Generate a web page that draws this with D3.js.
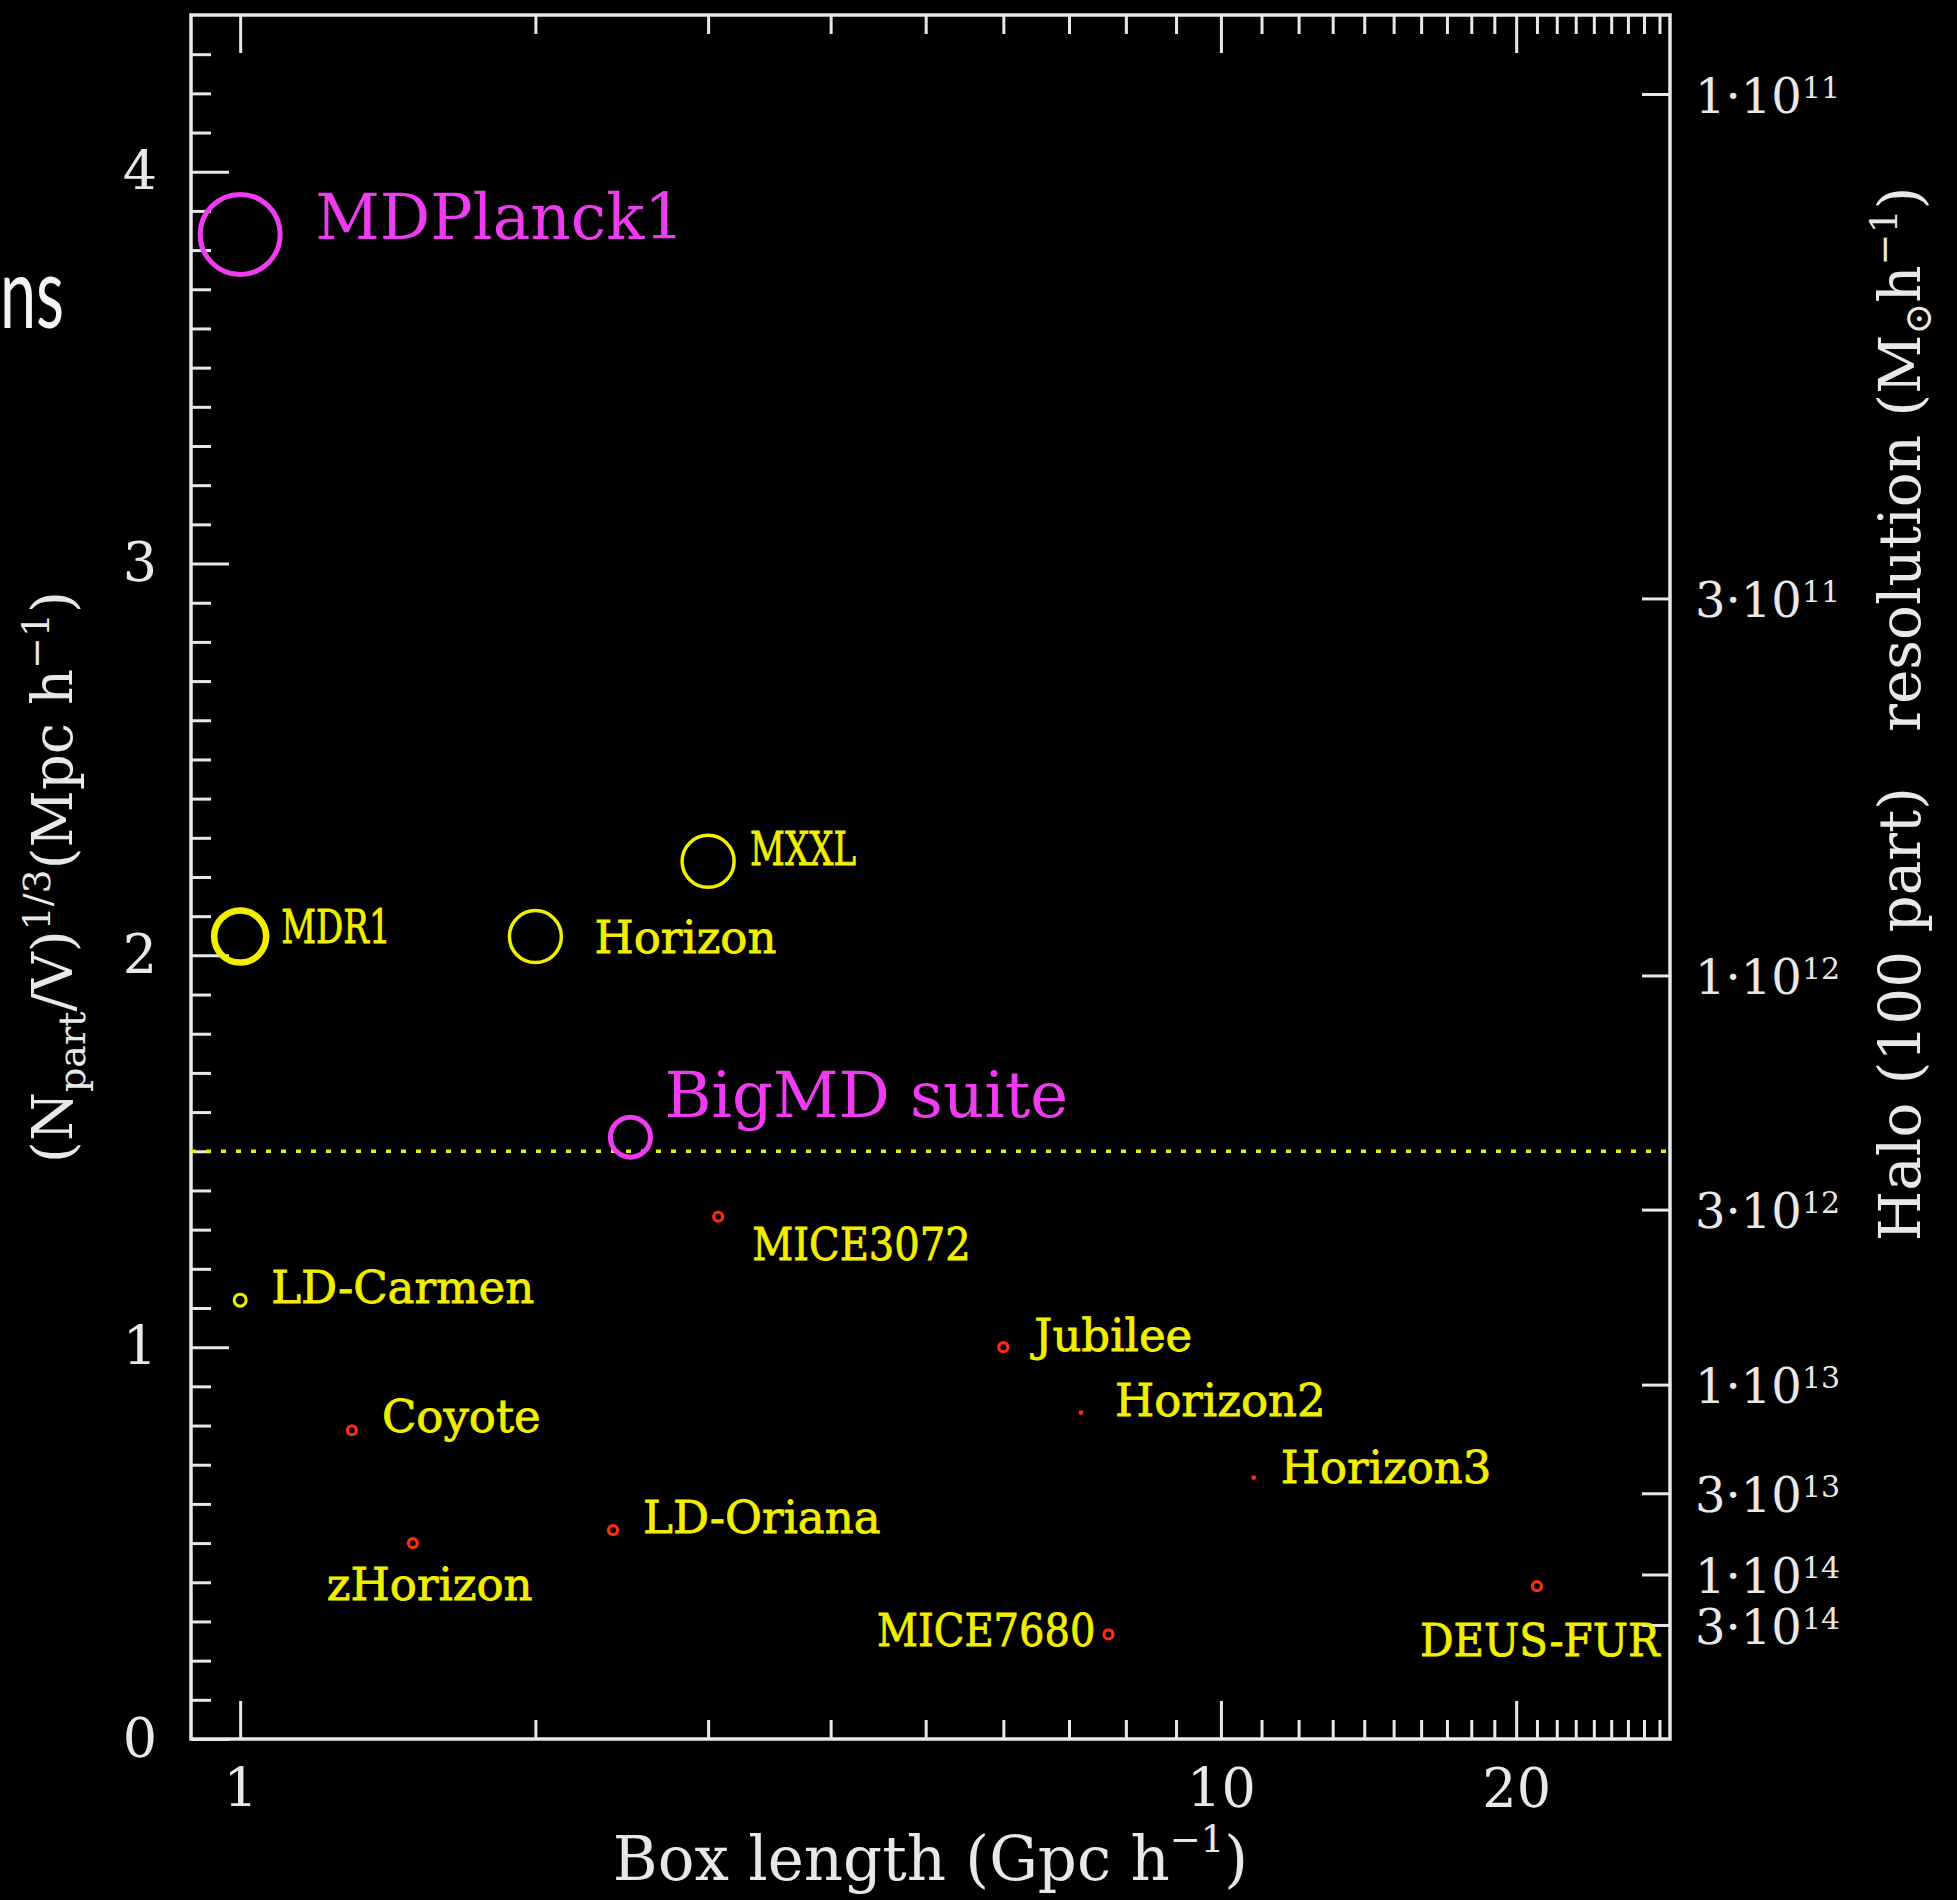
<!DOCTYPE html>
<html><head><meta charset="utf-8">
<script src="https://cdn.jsdelivr.net/npm/d3@7"></script>
<style>
html,body{margin:0;padding:0;background:#000;}
svg{display:block;}
text{white-space:pre;}
</style></head><body>
<svg id="chart" width="1957" height="1900"></svg>
<script>
// Simulation catalogue: box size and mean inter-particle density
const simNames   = ["MDPlanck1","MDR1","Horizon","MXXL","BigMD suite","MICE3072","LD-Carmen",
                    "Jubilee","Horizon2","Horizon3","Coyote","LD-Oriana","zHorizon","MICE7680","DEUS-FUR"];
const boxLength  = [1.0, 1.0, 2.0, 3.0, 2.5, 3.072, 1.0, 6.0, 7.2, 10.8, 1.3, 2.4, 1.5, 7.68, 21.0]; // Gpc/h
const partDensity= [3.84, 2.048, 2.048, 2.24, 1.536, 1.333, 1.12, 1.0, 0.833, 0.667, 0.788, 0.533, 0.5, 0.267, 0.39]; // (N/V)^(1/3)
const simGroup   = ["feature","major","major","major","feature","minor","lowres",
                    "minor","tiny","tiny","minor","minor","minor","minor","minor"];
const thresholdDensity = 1.5;
const xTickLabels = [1, 10, 20];
const yTickLabels = [0, 1, 2, 3, 4];
const massTicks   = [1e11, 3e11, 1e12, 3e12, 1e13, 3e13, 1e14, 3e14]; // Msun/h for 100-particle haloes
const massConst   = 7.4e12; // 100 * rho_m in Msun/h per (Mpc/h)^3

const W = 1957, H = 1900;
const L = 191, R = 1670, T = 15, B = 1739;
const svg = d3.select("#chart");
svg.append("rect").attr("width", W).attr("height", H).attr("fill", "#000");

const x = d3.scaleLog().domain([0.891, 28.7]).range([L, R]);
const y = d3.scaleLinear().domain([0, 4.4]).range([B, T]);
// halo mass resolution: y = (C / M)^(1/3), i.e. linear in M^(-1/3)
const mass = d3.scalePow().exponent(-1/3)
  .domain([massConst / Math.pow(4.4, 3), massConst]).range([y(4.4), y(1)]);

const AX = "#e8e8e8";
const serif = "'DejaVu Serif', serif";
const YEL = "#f2ee00", MAG = "#f03cf0", RED = "#ff2a14";

function styleAxis(g) {
  g.select(".domain").remove();
  g.selectAll(".tick line").attr("stroke", AX).attr("stroke-width", 3);
  g.selectAll(".tick text").attr("fill", AX).attr("font-family", serif);
}

// x minor / major ticks (bottom and top)
const xMinor = [2,3,4,5,6,7,8,9,11,12,13,14,15,16,17,18,19,21,22,23,24,25,26,27,28];
svg.append("g").attr("transform", `translate(0,${B})`)
  .call(d3.axisBottom(x).tickValues(xMinor).tickSize(-19).tickFormat(""))
  .call(styleAxis);
svg.append("g").attr("transform", `translate(0,${B})`)
  .call(d3.axisBottom(x).tickValues(xTickLabels).tickSize(-38).tickPadding(30).tickFormat(d3.format("d")))
  .call(styleAxis)
  .call(g => g.selectAll(".tick text").attr("font-size", 54));
svg.append("g").attr("transform", `translate(0,${T})`)
  .call(d3.axisTop(x).tickValues(xMinor).tickSize(-19).tickFormat(""))
  .call(styleAxis);
svg.append("g").attr("transform", `translate(0,${T})`)
  .call(d3.axisTop(x).tickValues(xTickLabels).tickSize(-38).tickFormat(""))
  .call(styleAxis);

// y minor / major ticks (left)
const yMinor = d3.range(1, 44).map(i => i / 10).filter(v => Math.abs(v - Math.round(v)) > 1e-6);
svg.append("g").attr("transform", `translate(${L},0)`)
  .call(d3.axisLeft(y).tickValues(yMinor).tickSize(-20).tickFormat(""))
  .call(styleAxis);
svg.append("g").attr("transform", `translate(${L},0)`)
  .call(d3.axisLeft(y).tickValues(yTickLabels).tickSize(-38).tickPadding(34).tickFormat(d3.format("d")))
  .call(styleAxis)
  .call(g => g.selectAll(".tick text").attr("font-size", 54));

// right axis: halo mass resolution
svg.append("g").attr("transform", `translate(${R},0)`)
  .call(d3.axisRight(mass).tickValues(massTicks).tickSize(-28).tickPadding(25).tickFormat(""))
  .call(styleAxis)
  .call(g => g.selectAll(".tick").each(function(m) {
    const e = Math.floor(Math.log10(m) + 1e-9);
    const mant = Math.round(m / Math.pow(10, e));
    const t = d3.select(this).select("text").attr("font-size", 48).attr("dy", "0.38em");
    t.append("tspan").text(mant + "·10");
    t.append("tspan").attr("font-size", 30).attr("dy", "-0.5em").text(e);
  }));

// frame
svg.append("rect").attr("x", L).attr("y", T).attr("width", R - L).attr("height", B - T)
  .attr("fill", "none").attr("stroke", AX).attr("stroke-width", 3.5);

// axis titles
const xt = svg.append("text").attr("x", (L + R) / 2).attr("y", 1880).attr("text-anchor", "middle")
  .attr("fill", AX).attr("font-family", serif).attr("font-size", 61);
xt.append("tspan").text("Box length (Gpc h");
xt.append("tspan").attr("font-size", 37).attr("dy", "-0.75em").text("−1");
xt.append("tspan").attr("dy", "0.46em").text(")");

const yl = svg.append("text").attr("transform", `translate(72,${(T + B) / 2}) rotate(-90)`)
  .attr("text-anchor", "middle").attr("fill", AX).attr("font-family", serif).attr("font-size", 56);
yl.append("tspan").text("(N");
yl.append("tspan").attr("font-size", 38).attr("dy", "0.35em").text("part");
yl.append("tspan").attr("dy", "-0.23em").text("/V)");
yl.append("tspan").attr("font-size", 38).attr("dy", "-0.6em").text("1/3");
yl.append("tspan").attr("dy", "0.4em").text("(Mpc h");
yl.append("tspan").attr("font-size", 38).attr("dy", "-0.6em").text("−1");
yl.append("tspan").attr("dy", "0.4em").text(")");

const yr = svg.append("text").attr("transform", `translate(1920,714) rotate(-90)`)
  .attr("text-anchor", "middle").attr("fill", AX).attr("font-family", serif).attr("font-size", 58);
yr.append("tspan").text("Halo (100 part)   resolution (M");
yr.append("tspan").attr("font-size", 38).attr("dy", "0.3em").text("⊙");
yr.append("tspan").attr("dy", "-0.2em").text("h");
yr.append("tspan").attr("font-size", 38).attr("dy", "-0.6em").text("−1");
yr.append("tspan").attr("dy", "0.4em").text(")");

// slide text fragment at the left edge
svg.append("text").attr("x", 0).attr("y", 328)
  .attr("transform", "scale(0.66,1)")
  .attr("fill", "#f4f4f4").attr("font-family", "Lato, 'Open Sans', sans-serif").attr("font-size", 98).text("ns");

// threshold line
svg.append("line").attr("x1", L).attr("x2", R)
  .attr("y1", y(thresholdDensity)).attr("y2", y(thresholdDensity))
  .attr("stroke", YEL).attr("stroke-width", 3.5).attr("stroke-dasharray", "5 10");

// marker appearance by group
const markerStyle = {
  feature: { color: MAG, r: 20, sw: 5 },
  major:   { color: YEL, r: 26, sw: 3.5 },
  lowres:  { color: YEL, r: 6,  sw: 3 },
  minor:   { color: RED, r: 4.5, sw: 3.2 },
  tiny:    { color: RED, r: 2.4, sw: 0, fill: true }
};
const markerOverride = { "MDPlanck1": { r: 40 }, "MDR1": { sw: 6.5 } };

// label placement (pixel offsets from marker centre)
const labelStyle = {
  "MDPlanck1":  { dx: 75,  dy: 5,  size: 63, color: MAG },
  "MDR1":       { dx: 41,  dy: 6,  size: 46, sx: 0.74 },
  "Horizon":    { dx: 59,  dy: 16, size: 45 },
  "MXXL":       { dx: 42,  dy: 4,  size: 46, sx: 0.74 },
  "BigMD suite":{ dx: 34,  dy: -20, size: 64, color: MAG },
  "MICE3072":   { dx: 34,  dy: 43, size: 45, sx: 0.89 },
  "LD-Carmen":  { dx: 31,  dy: 3,  size: 45 },
  "Jubilee":    { dx: 31,  dy: 4,  size: 45 },
  "Horizon2":   { dx: 34,  dy: 3,  size: 45 },
  "Horizon3":   { dx: 27,  dy: 5,  size: 45 },
  "Coyote":     { dx: 30,  dy: 2,  size: 45 },
  "LD-Oriana":  { dx: 30,  dy: 3,  size: 45 },
  "zHorizon":   { dx: -86, dy: 57, size: 45 },
  "MICE7680":   { dx: -13, dy: 12, size: 45, anchor: "end", sx: 0.89 },
  "DEUS-FUR":   { dx: -117, dy: 70, size: 45, sx: 0.93 }
};

const sims = simNames.map((n, i) => ({ name: n, box: boxLength[i], dens: partDensity[i], group: simGroup[i] }));

svg.append("g").selectAll("circle").data(sims).join("circle")
  .attr("cx", d => x(d.box)).attr("cy", d => y(d.dens))
  .each(function(d) {
    const s = Object.assign({}, markerStyle[d.group], markerOverride[d.name] || {});
    d3.select(this).attr("r", s.r)
      .attr("fill", s.fill ? s.color : "none")
      .attr("stroke", s.fill ? "none" : s.color)
      .attr("stroke-width", s.sw);
  });

svg.append("g").selectAll("text").data(sims).join("text")
  .attr("transform", d => {
    const s = labelStyle[d.name];
    return `translate(${x(d.box) + s.dx},${y(d.dens) + s.dy})` + (s.sx ? ` scale(${s.sx},1)` : "");
  })
  .attr("text-anchor", d => labelStyle[d.name].anchor || "start")
  .attr("font-family", serif)
  .attr("font-size", d => labelStyle[d.name].size)
  .attr("fill", d => labelStyle[d.name].color || YEL)
  .attr("stroke", d => labelStyle[d.name].color ? "none" : YEL)
  .attr("stroke-width", 0.8)
  .text(d => d.name);
</script>
</body></html>
